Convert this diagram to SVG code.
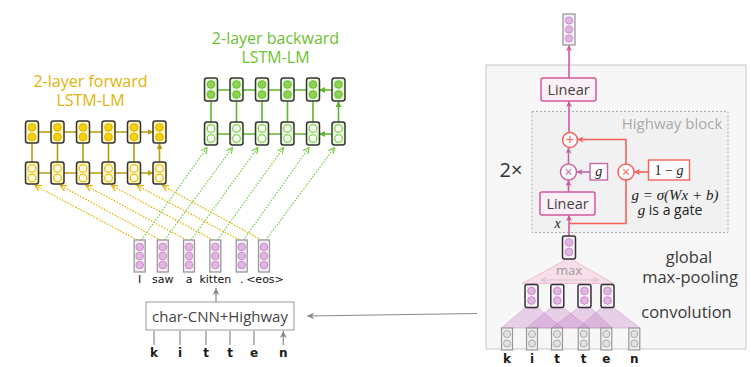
<svg xmlns="http://www.w3.org/2000/svg" width="751" height="367" viewBox="0 0 751 367">
  <style>
    .sans { font-family: "Open Sans", "Noto Sans", sans-serif; }
    .word { font-family: "DejaVu Sans", sans-serif; font-size: 11px; fill: #111; text-anchor: middle; }
    .chr { font-family: "DejaVu Sans", sans-serif; font-size: 12px; font-weight: bold; fill: #1a1a1a; text-anchor: middle; }
    .math { font-family: "Liberation Serif", "DejaVu Serif", serif; }
    .fwd-cell { fill: #fff4bb; stroke: #333; stroke-width: 1.5; }
    .fwd-on { fill: #f6d20c; stroke: #d9b000; stroke-width: 1; }
    .fwd-off { fill: #fffbe6; stroke: #e0b800; stroke-width: 1.1; }
    .bwd-cell { fill: #e6f7d7; stroke: #333; stroke-width: 1.5; }
    .bwd-on { fill: #8fd450; stroke: #6ab836; stroke-width: 1; }
    .bwd-off { fill: #f6fcef; stroke: #79c748; stroke-width: 1.1; }
    .emb-cell { fill: #f5f0f5; stroke: #999; stroke-width: 1.3; }
    .vec-cell { fill: #f7eef7; stroke: #333; stroke-width: 1.5; }
    .purp { fill: #e2b6e2; stroke: #c98bc9; stroke-width: 1; }
    .in-cell { fill: #eeeeee; stroke: #999; stroke-width: 1.2; }
    .grey { fill: #e2e2e2; stroke: #aaa; stroke-width: 1; }
    .fwd-arr { stroke: #b89c10; stroke-width: 1.6; fill: none; marker-end: url(#aGold); }
    .bwd-arr { stroke: #5fb52c; stroke-width: 1.6; fill: none; marker-end: url(#aGreen); }
    .fwd-dot { stroke: #e0b400; stroke-width: 1.2; stroke-dasharray: 1.6 1.4; fill: none; marker-end: url(#aGoldS); }
    .bwd-dot { stroke: #7ccc45; stroke-width: 1.2; stroke-dasharray: 1.6 1.4; fill: none; marker-end: url(#aGreenS); }
    .gr-arr { stroke: #8a8a8a; stroke-width: 1.2; fill: none; marker-end: url(#aGrey); }
    .pk { stroke: #d4589c; stroke-width: 1.6; fill: none; }
    .pk-arr { stroke: #d4589c; stroke-width: 1.6; fill: none; marker-end: url(#aPink); }
    .rd { stroke: #f2625c; stroke-width: 1.6; fill: none; }
    .rd-arr { stroke: #f2625c; stroke-width: 1.6; fill: none; marker-end: url(#aRed); }
    .pu-arr { stroke: #c366a8; stroke-width: 1.6; fill: none; marker-end: url(#aPurp); }
    .conv { fill: #c277c2; fill-opacity: 0.3; stroke: #c78ac7; stroke-opacity: 0.6; stroke-width: 0.8; }
  </style>
  <defs>
    <marker id="aGold" viewBox="0 0 6 6" refX="5.5" refY="3" markerWidth="6" markerHeight="6" markerUnits="userSpaceOnUse" orient="auto"><path d="M0,0 L6,3 L0,6 z" fill="#b89c10"/></marker>
    <marker id="aGreen" viewBox="0 0 6 6" refX="5.5" refY="3" markerWidth="6" markerHeight="6" markerUnits="userSpaceOnUse" orient="auto"><path d="M0,0 L6,3 L0,6 z" fill="#5fb52c"/></marker>
    <marker id="aGoldS" viewBox="0 0 8 8" refX="7" refY="4" markerWidth="7" markerHeight="7" markerUnits="userSpaceOnUse" orient="auto"><path d="M0,0.5 L7,4 L0,7.5" fill="none" stroke="#e0b400" stroke-width="1.4"/></marker>
    <marker id="aGreenS" viewBox="0 0 8 8" refX="7" refY="4" markerWidth="7" markerHeight="7" markerUnits="userSpaceOnUse" orient="auto"><path d="M0,0.5 L7,4 L0,7.5" fill="none" stroke="#7ccc45" stroke-width="1.4"/></marker>
    <marker id="aGrey" viewBox="0 0 8 8" refX="7" refY="4" markerWidth="8" markerHeight="8" markerUnits="userSpaceOnUse" orient="auto"><path d="M0,0.5 L7,4 L0,7.5 L2,4 z" fill="#8a8a8a"/></marker>
    <marker id="aPink" viewBox="0 0 6 6" refX="5.5" refY="3" markerWidth="6" markerHeight="6" markerUnits="userSpaceOnUse" orient="auto"><path d="M0,0 L6,3 L0,6 L1.5,3 z" fill="#d4589c"/></marker>
    <marker id="aRed" viewBox="0 0 6 6" refX="5.5" refY="3" markerWidth="6" markerHeight="6" markerUnits="userSpaceOnUse" orient="auto"><path d="M0,0 L6,3 L0,6 L1.5,3 z" fill="#f2625c"/></marker>
    <marker id="aPurp" viewBox="0 0 6 6" refX="5.5" refY="3" markerWidth="6" markerHeight="6" markerUnits="userSpaceOnUse" orient="auto"><path d="M0,0 L6,3 L0,6 L1.5,3 z" fill="#c366a8"/></marker>
    <marker id="aGreyD" viewBox="0 0 6 6" refX="5.5" refY="3" markerWidth="6" markerHeight="6" markerUnits="userSpaceOnUse" orient="auto-start-reverse"><path d="M0,0.5 L6,3 L0,5.5" fill="none" stroke="#999" stroke-width="1.2"/></marker>
    <!-- LSTM cells: forward (gold) and backward (green), two gate circles each -->
    <g id="fwdTop"><rect x="-6.5" y="0" width="13" height="22" rx="2.5" class="fwd-cell"/><circle cx="0" cy="6.5" r="3.8" class="fwd-on"/><circle cx="0" cy="16" r="3.8" class="fwd-on"/></g>
    <g id="fwdBot"><rect x="-6.5" y="0" width="13" height="22" rx="2.5" class="fwd-cell"/><circle cx="0" cy="6.5" r="3.8" class="fwd-off"/><circle cx="0" cy="16" r="3.8" class="fwd-off"/></g>
    <g id="bwdTop"><rect x="-6.5" y="0" width="13" height="23" rx="2.5" class="bwd-cell"/><circle cx="0" cy="6.5" r="3.8" class="bwd-on"/><circle cx="0" cy="16.5" r="3.8" class="bwd-on"/></g>
    <g id="bwdBot"><rect x="-6.5" y="0" width="13" height="23" rx="2.5" class="bwd-cell"/><circle cx="0" cy="6.5" r="3.8" class="bwd-off"/><circle cx="0" cy="16.5" r="3.8" class="bwd-off"/></g>
    <!-- word embedding: three purple units -->
    <g id="emb"><rect x="-5.5" y="0" width="11" height="32" class="emb-cell"/><circle cx="0" cy="7" r="3.8" class="purp"/><circle cx="0" cy="16" r="3.8" class="purp"/><circle cx="0" cy="25" r="3.8" class="purp"/></g>
    <g id="vec2"><rect x="-6.5" y="0" width="13" height="23" rx="2" class="vec-cell"/><circle cx="0" cy="6.5" r="3.8" class="purp"/><circle cx="0" cy="16" r="3.8" class="purp"/></g>
    <g id="chr"><rect x="-5.5" y="0" width="11" height="22" class="in-cell"/><circle cx="0" cy="6" r="3.5" class="grey"/><circle cx="0" cy="15.5" r="3.5" class="grey"/></g>
  </defs>

  <!-- right panel background -->
  <g id="panel">
    <rect x="486" y="65" width="260" height="284" fill="#f7f7f7" stroke="#cfcfcf" stroke-width="1.2"/>
    <rect x="532" y="111.5" width="196" height="121" fill="#f1f1f1" stroke="#aaa" stroke-width="1" stroke-dasharray="2 2"/>
    <text x="672" y="129" class="sans" font-size="15" fill="#aaa" text-anchor="middle">Highway block</text>
    <text x="511" y="177" class="sans" font-size="20" fill="#333" text-anchor="middle">2×</text>
  </g>

  <!-- connectors -->
  <g id="connectors">
    <!-- forward LSTM recurrences and layer links -->
    <path class="fwd-arr" d="M38.5,132H51M64,132H76.5M89.5,132H102M115,132H127.5M140.5,132H153"/>
    <path class="fwd-arr" d="M38.5,173H51M64,173H76.5M89.5,173H102M115,173H127.5M140.5,173H153"/>
    <path class="fwd-arr" d="M32,162V143.5M57.5,162V143.5M83,162V143.5M108.5,162V143.5M134,162V143.5M159.5,162V143.5"/>
    <!-- backward LSTM -->
    <path class="bwd-arr" d="M230,90H217.5M255.5,90H243M281,90H268.5M306.5,90H294M332,90H319.5"/>
    <path class="bwd-arr" d="M230,134H217.5M255.5,134H243M281,134H268.5M306.5,134H294M332,134H319.5"/>
    <path class="bwd-arr" d="M211,122V101.5M236.5,122V101.5M262,122V101.5M287.5,122V101.5M313,122V101.5M338.5,122V101.5"/>
    <!-- embeddings into both language models -->
    <path class="fwd-dot" d="M137.5,240L35,185.5"/>
    <path class="fwd-dot" d="M160.5,240L60.5,185.5"/>
    <path class="fwd-dot" d="M186.5,240L86,185.5"/>
    <path class="fwd-dot" d="M213,240L111.5,185.5"/>
    <path class="fwd-dot" d="M239.5,240L137,185.5"/>
    <path class="fwd-dot" d="M261.5,240L162.5,185.5"/>
    <path class="bwd-dot" d="M141.5,240L207,147.5"/>
    <path class="bwd-dot" d="M164.5,240L232.5,147.5"/>
    <path class="bwd-dot" d="M191,240L258,147.5"/>
    <path class="bwd-dot" d="M217.5,240L283.5,147.5"/>
    <path class="bwd-dot" d="M243.5,240L309,147.5"/>
    <path class="bwd-dot" d="M266,240L334.5,147.5"/>
    <!-- char-CNN to the word and chars into it -->
    <path class="gr-arr" d="M216,302V288"/>
    <path class="gr-arr" d="M154,345V331M180,345V331M206,345V331M230,345V331M254,345V331M283.3,345V331"/>
    <path class="gr-arr" d="M477,313.5L307,316"/>
    <!-- highway network -->
    <path class="pk-arr" d="M569,236V215.5"/>
    <path class="pk-arr" d="M568.5,192V180.5"/>
    <path class="pu-arr" d="M568.5,164V148"/>
    <path class="pk-arr" d="M569,132.5V101.5"/>
    <path class="pk-arr" d="M569,78V45.5"/>
    <path class="pu-arr" d="M590,172H577"/>
    <path class="rd-arr" d="M648.5,172H634.5"/>
    <path class="rd" d="M569,223.5H626V180"/>
    <path class="rd-arr" d="M626,164V139.5H578"/>
    <!-- max-pooling window arrow -->
    <path d="M541,280H598" stroke="#999" stroke-width="1.2" fill="none" marker-start="url(#aGreyD)" marker-end="url(#aGreyD)"/>
  </g>

  <!-- 2-layer forward LSTM-LM -->
  <g id="forward-lm">
    <text x="90.5" y="86.5" class="sans" font-size="16" fill="#e0b40a" text-anchor="middle">2-layer forward</text>
    <text x="90.5" y="105.5" class="sans" font-size="16" fill="#e0b40a" text-anchor="middle">LSTM-LM</text>
    <use href="#fwdTop" x="32" y="121"/><use href="#fwdTop" x="57.5" y="121"/><use href="#fwdTop" x="83" y="121"/>
    <use href="#fwdTop" x="108.5" y="121"/><use href="#fwdTop" x="134" y="121"/><use href="#fwdTop" x="159.5" y="121"/>
    <use href="#fwdBot" x="32" y="162"/><use href="#fwdBot" x="57.5" y="162"/><use href="#fwdBot" x="83" y="162"/>
    <use href="#fwdBot" x="108.5" y="162"/><use href="#fwdBot" x="134" y="162"/><use href="#fwdBot" x="159.5" y="162"/>
  </g>

  <!-- 2-layer backward LSTM-LM -->
  <g id="backward-lm">
    <text x="275.5" y="44" class="sans" font-size="16" fill="#6cc22f" text-anchor="middle">2-layer backward</text>
    <text x="275.5" y="63" class="sans" font-size="16" fill="#6cc22f" text-anchor="middle">LSTM-LM</text>
    <use href="#bwdTop" x="211" y="78"/><use href="#bwdTop" x="236.5" y="78"/><use href="#bwdTop" x="262" y="78"/>
    <use href="#bwdTop" x="287.5" y="78"/><use href="#bwdTop" x="313" y="78"/><use href="#bwdTop" x="338.5" y="78"/>
    <use href="#bwdBot" x="211" y="122"/><use href="#bwdBot" x="236.5" y="122"/><use href="#bwdBot" x="262" y="122"/>
    <use href="#bwdBot" x="287.5" y="122"/><use href="#bwdBot" x="313" y="122"/><use href="#bwdBot" x="338.5" y="122"/>
  </g>

  <!-- word embeddings -->
  <g id="embeddings">
    <use href="#emb" x="139.7" y="240"/><use href="#emb" x="162.8" y="240"/><use href="#emb" x="189" y="240"/>
    <use href="#emb" x="215.3" y="240"/><use href="#emb" x="241.7" y="240"/><use href="#emb" x="264" y="240"/>
    <text x="139.7" y="283" class="word">I</text>
    <text x="162.8" y="283" class="word">saw</text>
    <text x="189" y="283" class="word">a</text>
    <text x="215.3" y="283" class="word">kitten</text>
    <text x="241.7" y="283" class="word">.</text>
    <text x="265" y="283" class="word" font-size="8.5">&lt;eos&gt;</text>
  </g>

  <!-- char-CNN + Highway encoder -->
  <g id="char-cnn">
    <rect x="146" y="302" width="148" height="28" fill="#fff" stroke="#aaa" stroke-width="1.2"/>
    <text x="220" y="322" class="sans" font-size="15" fill="#444" text-anchor="middle">char-CNN+Highway</text>
    <text x="154" y="357" class="chr">k</text><text x="180" y="357" class="chr">i</text><text x="206" y="357" class="chr">t</text>
    <text x="230" y="357" class="chr">t</text><text x="254" y="357" class="chr">e</text><text x="283.3" y="357" class="chr">n</text>
  </g>

  <!-- output word vector -->
  <g id="output-vector">
    <rect x="563" y="14" width="12" height="31" class="emb-cell"/>
    <circle cx="569" cy="20.5" r="3.6" class="purp"/><circle cx="569" cy="29.5" r="3.6" class="purp"/><circle cx="569" cy="38.5" r="3.6" class="purp"/>
  </g>

  <g id="linear-out">
    <rect x="541" y="78" width="55" height="23" rx="2" fill="#fbf0f6" stroke="#d4589c" stroke-width="1.5"/>
    <text x="568.5" y="95" class="sans" font-size="14.5" fill="#444" text-anchor="middle">Linear</text>
  </g>

  <g id="sum">
    <circle cx="570" cy="140" r="7.5" fill="#fff" stroke="#f2625c" stroke-width="1.5"/>
    <text x="570" y="145.3" class="sans" font-size="15" fill="#f2625c" text-anchor="middle">+</text>
  </g>

  <g id="mul-gate">
    <circle cx="568.5" cy="172" r="8" fill="#fff" stroke="#c366a8" stroke-width="1.5"/>
    <text x="568.5" y="177" class="sans" font-size="14" fill="#c366a8" text-anchor="middle">×</text>
    <rect x="590" y="163.5" width="17.5" height="16.5" fill="#fff" stroke="#c366a8" stroke-width="1.4"/>
    <text x="598.8" y="176" class="math" font-size="14" font-style="italic" fill="#222" text-anchor="middle">g</text>
  </g>

  <g id="mul-carry">
    <circle cx="626" cy="172" r="8" fill="#fff" stroke="#f2625c" stroke-width="1.5"/>
    <text x="626" y="177" class="sans" font-size="14" fill="#f2625c" text-anchor="middle">×</text>
    <rect x="648.5" y="160" width="41" height="20" fill="#fff" stroke="#f2625c" stroke-width="1.4"/>
    <text x="669" y="175" class="math" font-size="14" fill="#222" text-anchor="middle">1 − <tspan font-style="italic">g</tspan></text>
  </g>

  <g id="gate-formula">
    <text x="675" y="200" class="math" font-size="15" font-style="italic" fill="#222" text-anchor="middle">g = σ(Wx + b)</text>
    <text x="670" y="215" font-size="14" fill="#222" text-anchor="middle"><tspan class="math" font-style="italic" font-size="15">g</tspan><tspan class="sans"> is a gate</tspan></text>
  </g>

  <g id="linear-in">
    <rect x="540" y="192" width="55" height="23" rx="2" fill="#fbf0f6" stroke="#d4589c" stroke-width="1.5"/>
    <text x="567.5" y="208.5" class="sans" font-size="14.5" fill="#444" text-anchor="middle">Linear</text>
    <text x="557.5" y="227.5" class="math" font-size="14" font-style="italic" fill="#222" text-anchor="middle">x</text>
  </g>

  <g id="max-pool">
    <polygon points="569,258 522.5,283.5 613.5,283.5" fill="#f7d3e3" fill-opacity="0.7" stroke="#f0bcd3" stroke-width="1"/>
    <text x="569" y="275" class="sans" font-size="13" fill="#999" text-anchor="middle">max</text>
    <use href="#vec2" x="569" y="236"/>
    <text x="689" y="263" class="sans" font-size="16.5" fill="#3a3a3a" text-anchor="middle">global</text>
    <text x="690" y="283" class="sans" font-size="16.5" fill="#3a3a3a" text-anchor="middle">max-pooling</text>
  </g>

  <g id="convolution">
    <polygon class="conv" points="525,308 538,308 562.5,328 501.5,328"/>
    <polygon class="conv" points="550.8,308 563.8,308 589.2,328 526.5,328"/>
    <polygon class="conv" points="578,308 591,308 611.8,328 551.5,328"/>
    <polygon class="conv" points="601,308 614,308 639.8,328 578.2,328"/>
    <use href="#vec2" x="531.5" y="284.5"/><use href="#vec2" x="557.3" y="284.5"/>
    <use href="#vec2" x="584.5" y="284.5"/><use href="#vec2" x="607.5" y="284.5"/>
    <text x="686.5" y="318" class="sans" font-size="16.5" fill="#3a3a3a" text-anchor="middle">convolution</text>
  </g>

  <g id="char-inputs">
    <use href="#chr" x="507" y="328"/><use href="#chr" x="532" y="328"/><use href="#chr" x="557" y="328"/>
    <use href="#chr" x="583.7" y="328"/><use href="#chr" x="606.3" y="328"/><use href="#chr" x="634.3" y="328"/>
    <text x="507" y="363" class="chr">k</text><text x="532" y="363" class="chr">i</text><text x="557" y="363" class="chr">t</text>
    <text x="583.7" y="363" class="chr">t</text><text x="606.3" y="363" class="chr">e</text><text x="634.3" y="363" class="chr">n</text>
  </g>
</svg>
